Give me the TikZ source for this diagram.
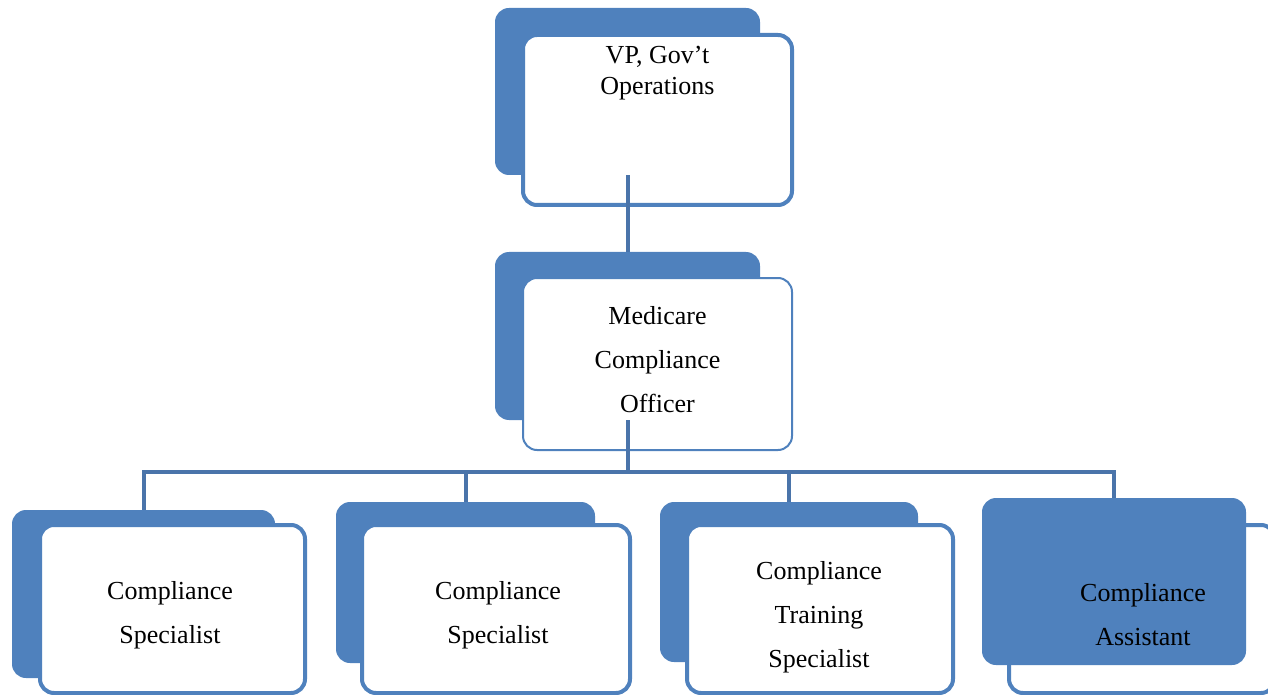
\documentclass[tikz,border=0pt]{standalone}
\usepackage{fontspec}
\setmainfont{Liberation Serif}
\usetikzlibrary{positioning}
\definecolor{orgblue}{HTML}{4F81BD}
\definecolor{linkblue}{HTML}{4A74AA}

\begin{document}
\begin{tikzpicture}[x=0.5pt,y=-0.5pt,
	backbox/.style={rounded corners=7pt,fill=orgblue,inner sep=0pt},
	frontbox/.style={rounded corners=7pt,draw=orgblue,fill=white,line width=2pt,inner sep=0pt},
	boxtext/.style={align=center,inner sep=0pt,font=\fontsize{13}{22}\selectfont},
	link/.style={draw=linkblue,line width=2pt}]
	\useasboundingbox (0,0) rectangle (1268,695);
	% top levels
	\node[backbox,minimum width=132.5pt,minimum height=83.5pt](vpb) at (627.5,91.5) {};
	\node[frontbox,minimum width=134.5pt,minimum height=85pt](vp) at (657.5,120) {};
	\node[boxtext,font=\fontsize{13}{15.5}\selectfont,anchor=north](vpt) at (657.5,46) {VP, Gov’t\\Operations};
	\node[backbox,minimum width=132.5pt,minimum height=84pt](mcob) at (627.5,336) {};
	\node[frontbox,line width=1pt,minimum width=134.5pt,minimum height=86pt](mco) at (657.5,364) {};
	\node[boxtext](mcot) at (657.5,360) {Medicare\\Compliance\\Officer};
	% staff
	\node[backbox,minimum width=131.5pt,minimum height=84pt](cs1b) at (143.5,594) {};
	\node[frontbox,minimum width=132.5pt,minimum height=84pt](cs1) at (172.5,609) {};
	\node[boxtext](cs1t) at (170,615) {Compliance\\Specialist};
	\node[backbox,minimum width=129.5pt,minimum height=80.5pt](cs2b) at (465.5,582.5) {};
	\node[frontbox,minimum width=134pt,minimum height=84pt](cs2) at (496,609) {};
	\node[boxtext](cs2t) at (498,615) {Compliance\\Specialist};
	\node[backbox,minimum width=129pt,minimum height=80pt](ctsb) at (789,582) {};
	\node[frontbox,minimum width=133pt,minimum height=84pt](cts) at (820,609) {};
	\node[boxtext](ctst) at (819,617) {Compliance\\Training\\Specialist};
	\node[frontbox,minimum width=133pt,minimum height=84pt](cab) at (1142,609) {};
	\node[backbox,minimum width=132pt,minimum height=83.5pt](ca) at (1114,581.5) {};
	\node[boxtext](cat) at (1143,615) {Compliance\\Assistant};
	% connectors
	\coordinate (bar) at (627.5,472);
	\path[link]
	(vpb.south) -- (mcob.north)
	(mcob.south) -- (bar)
	(bar) -| (cs1b.north)
	(bar) -| (cs2b.north)
	(bar) -| (ctsb.north)
	(bar) -| (ca.north);
\end{tikzpicture}
\end{document}
